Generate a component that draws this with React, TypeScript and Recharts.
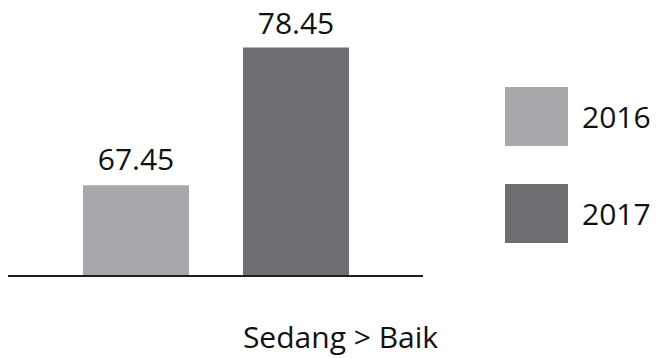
import { BarChart, Bar, XAxis, YAxis, LabelList } from "recharts";

const categories = ["Sedang > Baik"];
const values2016 = [67.45];
const values2017 = [78.45];
const seriesNames = ["2016", "2017"];
const seriesColors = ["#a7a9ac", "#6d6e71"];

const data = categories.map((name, i) => ({
  name,
  y2016: values2016[i],
  y2017: values2017[i],
}));

const FONT = "'Open Sans', 'Noto Sans', sans-serif";

function CategoryTick({ x, y, payload }: any) {
  return (
    <text
      x={x + 125}
      y={y + 64}
      textAnchor="middle"
      fontFamily={FONT}
      fontSize={30}
      fill="#111"
    >
      {payload.value}
    </text>
  );
}

// legend sits to the right of the plot, one big swatch per year
function SideLegend() {
  return (
    <div
      style={{
        position: "absolute",
        left: 505,
        top: 87,
        fontFamily: FONT,
      }}
    >
      {seriesNames.map((name, i) => (
        <div
          key={name}
          style={{
            display: "flex",
            alignItems: "center",
            height: 59,
            marginBottom: i === 0 ? 38 : 0,
          }}
        >
          <div style={{ width: 63, height: 59, background: seriesColors[i] }} />
          <span
            style={{
              marginLeft: 14,
              fontSize: 30,
              color: "#111",
              lineHeight: "59px",
            }}
          >
            {name}
          </span>
        </div>
      ))}
    </div>
  );
}

export default function App() {
  return (
    <div
      style={{
        position: "absolute",
        left: 0,
        top: 0,
        width: 656,
        height: 358,
        background: "#fff",
      }}
    >
      <BarChart
        width={656}
        height={358}
        data={data}
        margin={{ top: 28, right: 233, bottom: 0, left: 8 }}
        barSize={106}
        barGap={54}
      >
        <XAxis
          dataKey="name"
          height={82}
          axisLine={{ stroke: "#231f20", strokeWidth: 2 }}
          tickLine={false}
          tick={<CategoryTick />}
        />
        <YAxis hide domain={[60.2, 80]} />
        <Bar
          dataKey="y2016"
          name={seriesNames[0]}
          fill={seriesColors[0]}
          isAnimationActive={false}
        >
          <LabelList
            dataKey="y2016"
            position="top"
            offset={15}
            fontFamily={FONT}
            fontSize={30}
            fill="#111"
          />
        </Bar>
        <Bar
          dataKey="y2017"
          name={seriesNames[1]}
          fill={seriesColors[1]}
          isAnimationActive={false}
        >
          <LabelList
            dataKey="y2017"
            position="top"
            offset={13}
            fontFamily={FONT}
            fontSize={30}
            fill="#111"
          />
        </Bar>
      </BarChart>
      <SideLegend />
    </div>
  );
}
